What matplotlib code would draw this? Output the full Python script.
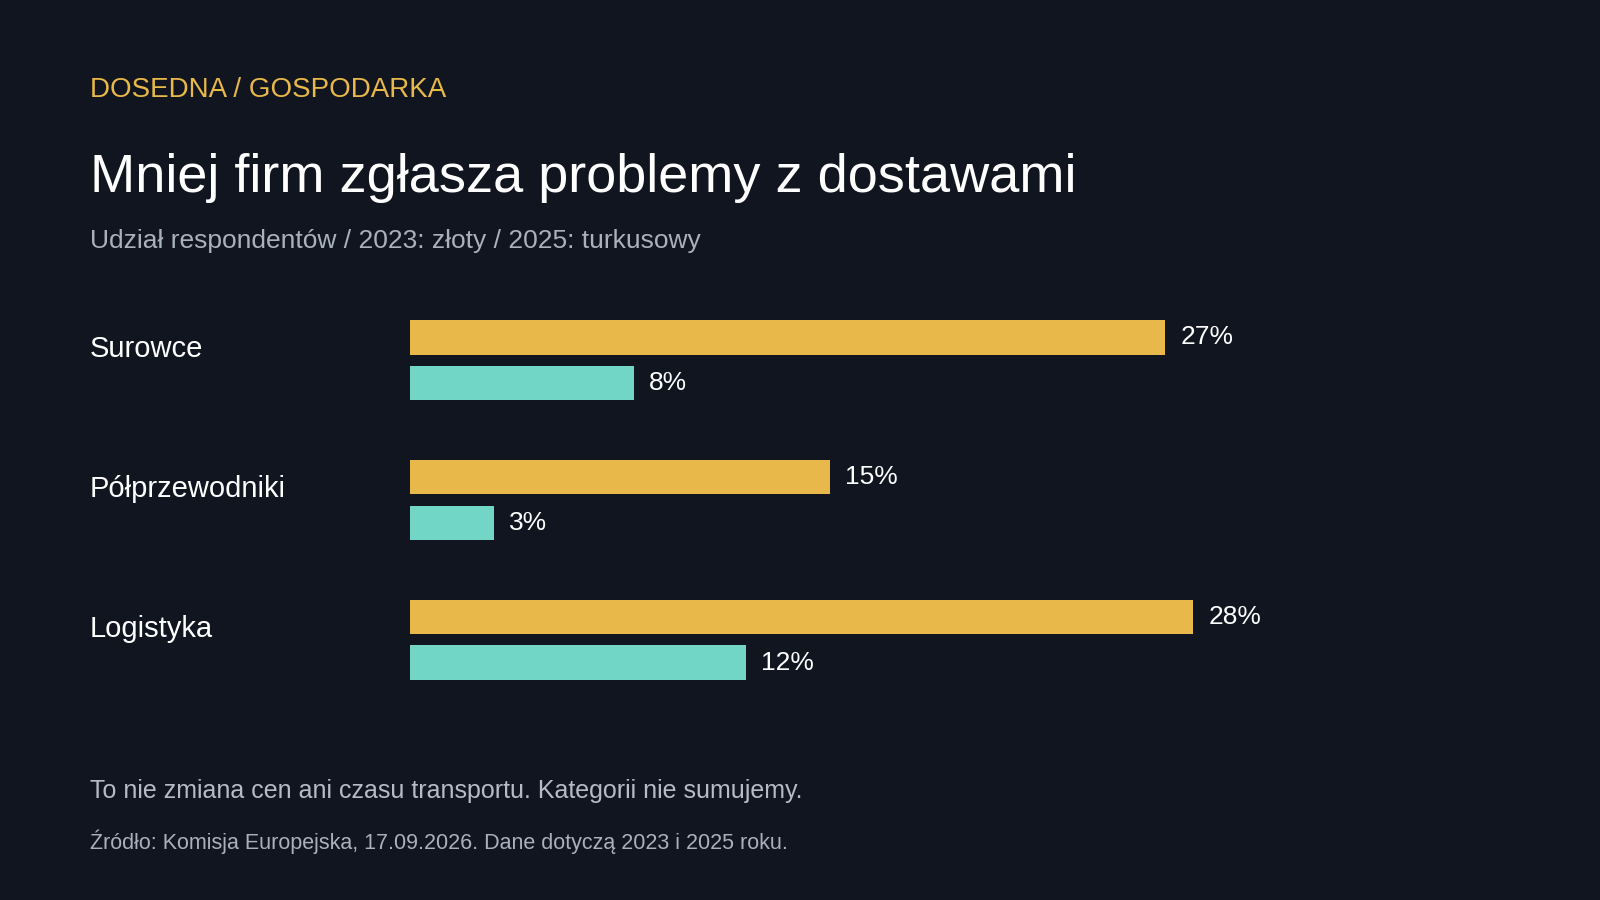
import matplotlib.pyplot as plt

plt.rcParams['font.family'] = ['Liberation Sans', 'DejaVu Sans']

categories = ['Surowce', 'Półprzewodniki', 'Logistyka']
values_2023 = [27, 15, 28]
values_2025 = [8, 3, 12]

BG = '#10151F'
GOLD = '#E8B84A'
TEAL = '#72D6C6'
W, H = 1568, 882  # reference pixel frame used for positions

fig = plt.figure(figsize=(16, 9), dpi=100, facecolor=BG)

def fx(px):
    return px / W

def fy(py):
    return 1 - py / H

ax = fig.add_axes([fx(402), fy(695.5), 1096 / W, 411 / H])
ax.set_facecolor(BG)
ax.set_xlim(0, 40)
ax.set_ylim(2.5, -0.5)
ax.axis('off')

off = 0.164
h = 0.248
for i, (a, b) in enumerate(zip(values_2023, values_2025)):
    ax.barh(i - off, a, height=h, color=GOLD)
    ax.barh(i + off, b, height=h, color=TEAL)
    ax.text(a + 0.55, i - off, f'{a}%', va='center', ha='left', color='white', fontsize=19)
    ax.text(b + 0.55, i + off, f'{b}%', va='center', ha='left', color='white', fontsize=19)
    ax.text(fx(88), fy(342 + 137 * i), categories[i], transform=fig.transFigure,
            va='center', ha='left', color='white', fontsize=21)

fig.text(fx(88), fy(88), 'DOSEDNA / GOSPODARKA', color=GOLD, fontsize=20, va='center')
fig.text(fx(88), fy(174), 'Mniej firm zgłasza problemy z dostawami', color='white',
         fontsize=39, va='center')
fig.text(fx(88), fy(236), 'Udział respondentów / 2023: złoty / 2025: turkusowy',
         color='#A9B1BD', fontsize=19, va='center')
fig.text(fx(88), fy(775), 'To nie zmiana cen ani czasu transportu. Kategorii nie sumujemy.',
         color='#B5BCC7', fontsize=18, va='center')
fig.text(fx(88), fy(825), 'Źródło: Komisja Europejska, 17.09.2026. Dane dotyczą 2023 i 2025 roku.',
         color='#A9B1BD', fontsize=15.5, va='center')

fig.savefig('out.png', facecolor=BG)
